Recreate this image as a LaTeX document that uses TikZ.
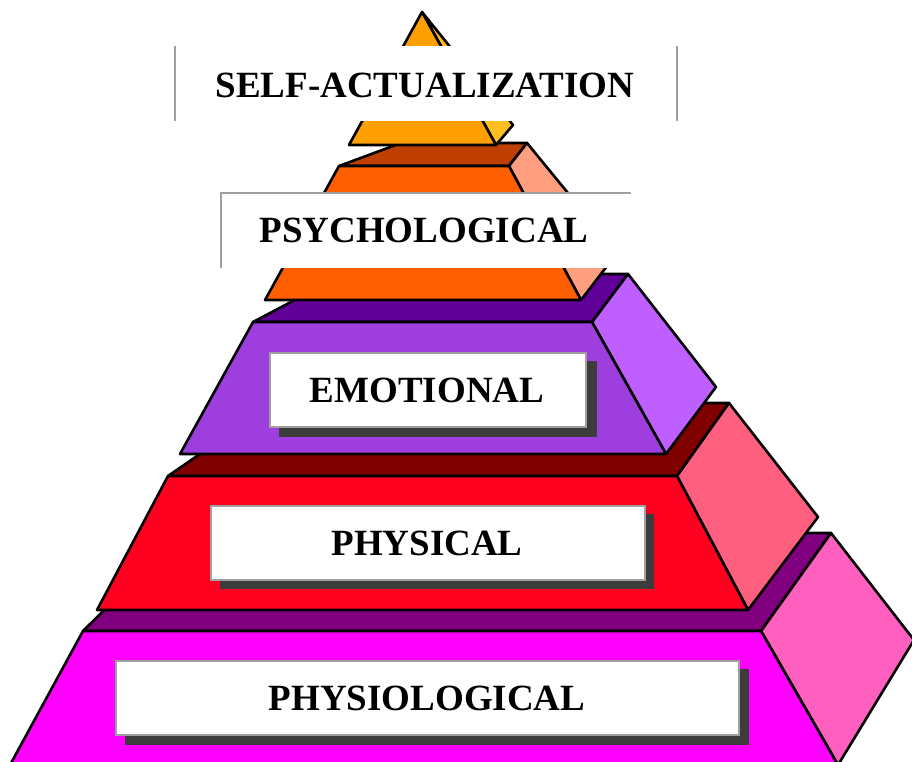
\documentclass[tikz,border=0pt]{standalone}
\usepackage{fontspec}
\setmainfont{Liberation Serif}
\definecolor{mtop}{HTML}{800080}
\definecolor{mside}{HTML}{FF5FBF}
\definecolor{mfront}{HTML}{FF00FF}
\definecolor{rtop}{HTML}{800000}
\definecolor{rside}{HTML}{FF5F7F}
\definecolor{rfront}{HTML}{FF0020}
\definecolor{ptop}{HTML}{600099}
\definecolor{pside}{HTML}{BF5FFF}
\definecolor{pfront}{HTML}{9E3EDE}
\definecolor{otop}{HTML}{BF3F00}
\definecolor{oside}{HTML}{FF9F7F}
\definecolor{ofront}{HTML}{FF5F00}
\definecolor{yside}{HTML}{FFBF1F}
\definecolor{yfront}{HTML}{FFA000}
\definecolor{shadowgray}{HTML}{3C3C3C}
\definecolor{boxgray}{HTML}{A0A0A0}
\begin{document}
\begin{tikzpicture}[x=1pt,y=-1pt,
  face/.style={draw=black,line width=2.6pt,line join=round},
  labelbox/.style={fill=white,draw=boxgray,line width=1.6pt},
  shadowbox/.style={fill=shadowgray},
  graybar/.style={draw=boxgray,line width=1.3pt},
  lbl/.style={anchor=base,inner sep=0pt,font=\bfseries\fontsize{37}{40}\selectfont}]
\useasboundingbox (0,0) rectangle (912,761);
\clip (0,0) rectangle (912,761);
\fill[white] (0,0) rectangle (912,761);
% bottom tier
\draw[face,fill=mtop] (83,631) -- (761,631) -- (831,533) -- (182,533) -- cycle;
\draw[face,fill=mside] (761,631) -- (831,533) -- (914,640) -- (838,765) -- cycle;
\draw[face,fill=mfront] (83,631) -- (761,631) -- (838,765) -- (10,765) -- cycle;
% red tier
\draw[face,fill=rtop] (168,476) -- (677,476) -- (729,403) -- (274,403) -- cycle;
\draw[face,fill=rside] (677,476) -- (729,403) -- (818,517) -- (748,610) -- cycle;
\draw[face,fill=rfront] (168,476) -- (677,476) -- (748,610) -- (97,610) -- cycle;
% purple tier
\draw[face,fill=ptop] (253,322) -- (592,322) -- (628,274) -- (344,274) -- cycle;
\draw[face,fill=pside] (592,322) -- (628,274) -- (716,387) -- (666,454) -- cycle;
\draw[face,fill=pfront] (253,322) -- (592,322) -- (666,454) -- (180,454) -- cycle;
% orange tier
\draw[face,fill=otop] (339,166) -- (509,166) -- (527,143) -- (401,143) -- cycle;
\draw[face,fill=oside] (509,166) -- (527,143) -- (617,253) -- (581,300) -- cycle;
\draw[face,fill=ofront] (339,166) -- (509,166) -- (581,300) -- (265,300) -- cycle;
% top tier
\draw[face,fill=yside] (422,12) -- (513,125) -- (496,145) -- cycle;
\draw[face,fill=yfront] (422,12) -- (496,145) -- (349,145) -- cycle;
% label boxes
\fill[white] (175,46) rectangle (677,121);
\draw[graybar] (175,46) -- (175,121);
\draw[graybar] (677,46) -- (677,121);
\fill[white] (221,193) rectangle (631,268);
\draw[graybar] (631,193) -- (221,193) -- (221,268);
\fill[shadowbox] (279,361) rectangle (597,437);
\draw[labelbox] (270,353) rectangle (586,427);
\fill[shadowbox] (220,514) rectangle (654,589);
\draw[labelbox] (211,506) rectangle (645,580);
\fill[shadowbox] (125,669) rectangle (749,745);
\draw[labelbox] (116,661) rectangle (739,735);
% labels
\node[lbl] (selfact) at (425,97) {SELF-ACTUALIZATION};
\node[lbl] (psych) at (424,242) {PSYCHOLOGICAL};
\node[lbl] (emot) at (427,402) {EMOTIONAL};
\node[lbl] (phys) at (427,555) {PHYSICAL};
\node[lbl] (physio) at (427,710) {PHYSIOLOGICAL};
\end{tikzpicture}
\end{document}
